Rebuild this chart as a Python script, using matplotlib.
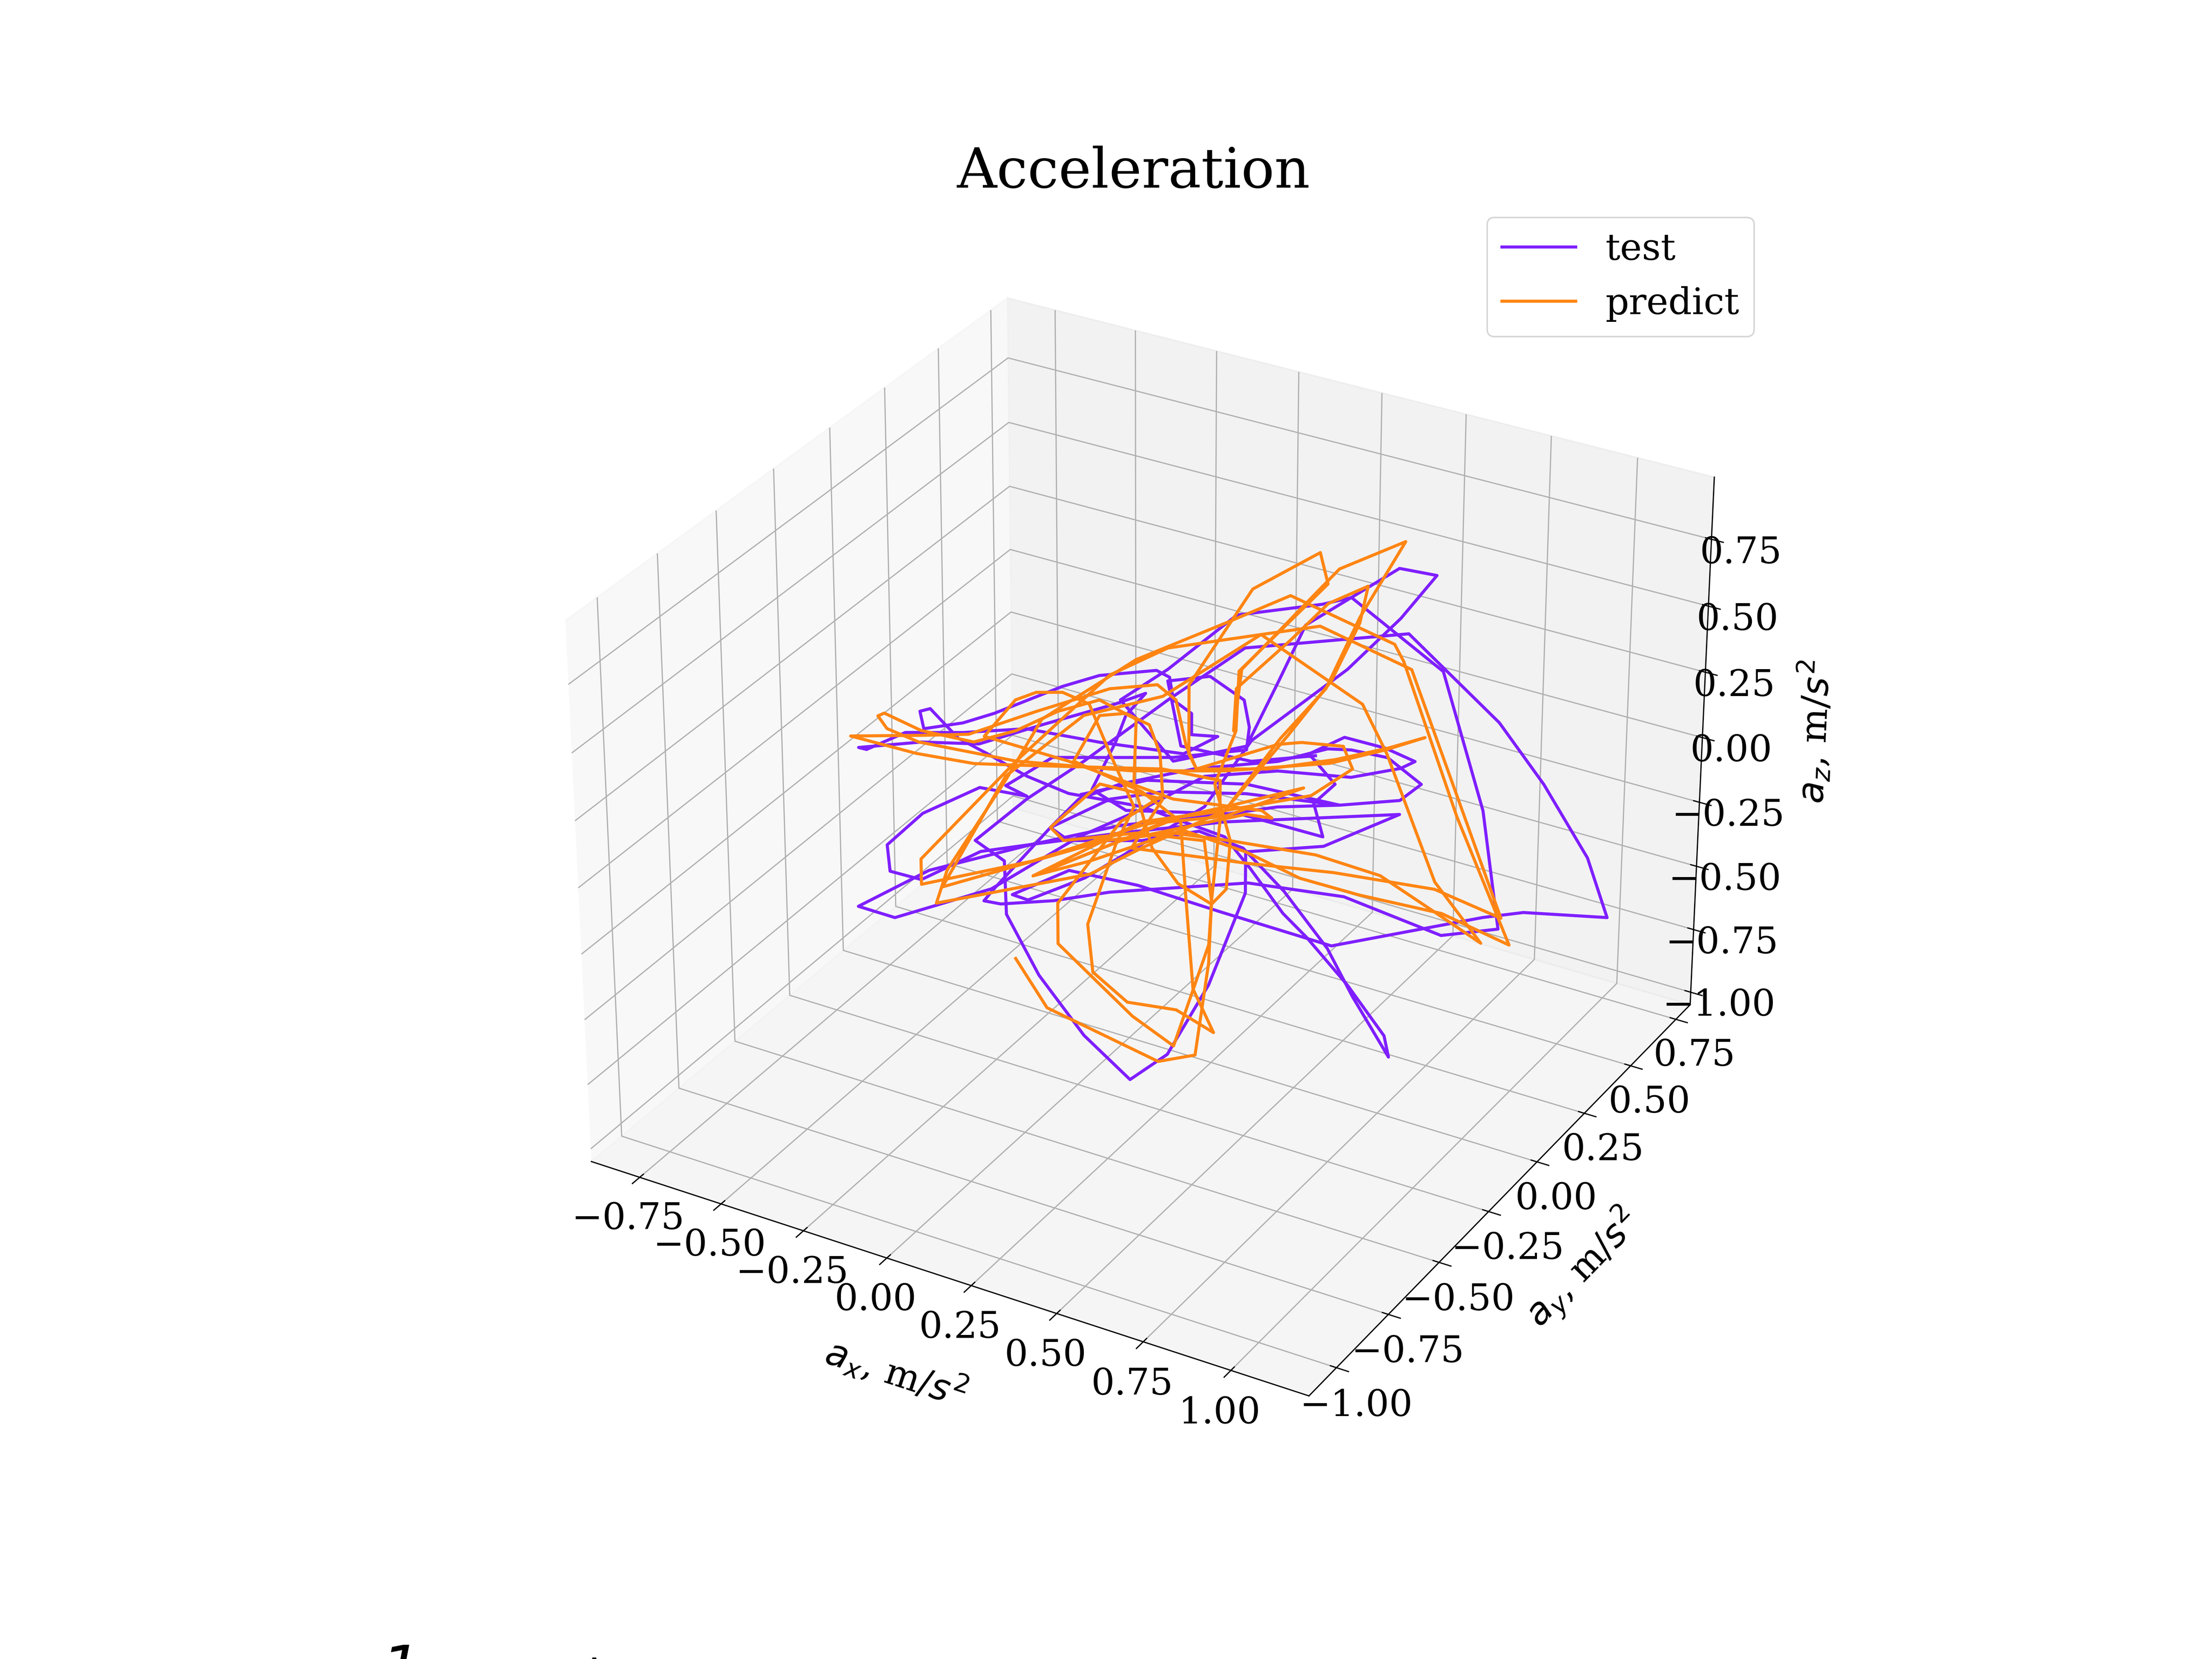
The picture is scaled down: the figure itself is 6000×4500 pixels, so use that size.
import matplotlib
matplotlib.use("Agg")
import matplotlib.pyplot as plt

plt.rcParams['font.family'] = 'DejaVu Serif'

xlim = (-0.90, 1.22)
ylim = (-1.13, 0.83)
zlim = (-1.05, 0.98)
xticks = [-0.75, -0.5, -0.25, 0, 0.25, 0.5, 0.75, 1.0]
yticks = [-1.0, -0.75, -0.5, -0.25, 0, 0.25, 0.5, 0.75]
zticks = [-1.0, -0.75, -0.5, -0.25, 0, 0.25, 0.5, 0.75]

# depth can't be read off the picture, y values are estimates
test_x = [.532,.390,.233,.204,.297,.373,.385,.379,.216,.076,-.052,-.157,-.110,-.215,-.343,-.424,-.419,-.349,-.215,-.098,
          .099,.332,.449,.588,.722,.769,.693,.612,.559,.449,.262,.099,.006,-.058,-.017,.146,.274,.373,.466,.565,
          .623,.708,.697,.612,.518,.464,.390,.332,.239,.146,-.017,-.110,-.197,-.261,-.322,-.345,-.337,-.250,-.180,-.029,
          .053,.179,.208,.216,.257,.257,.315,.239,.053,-.110,-.250,-.378,-.465,-.483,-.343,-.215,-.075,.088,.155,.111,
          .088,.035,.111,.367,.551,.530,.577,.518,.596,.687,.754,.722,.612,.449,.286,.158,.006,-.192,-.410,-.492,
          -.331,-.098,.099,.332,.722,.553,.379,.379,.297,.204,.119,.014,-.087,-.159,-.162,-.227,-.110,.018,.204,.374,
          .734,.939,1.042,1.145,1.194,1.005,.914,.574,.321,.137,-.017,-.145,-.110,.018,.146,.286,.390,.600,.716,.793,
          .711,.507,.449,.379,.216,.099,.204,.355,.542,.607,.812,.908,.949,.821,.600,.385,.074,-.052,-.171,-.209,
          -.186,-.058,.076,.193,.379,.588,.379,.158,.012]
test_y = [.034,-.042,-.125,-.141,-.091,-.051,-.045,-.048,-.134,-.209,-.277,-.332,-.307,-.363,-.431,-.474,-.471,-.434,-.363,-.301,
          -.196,-.073,-.011,.063,.134,.159,.119,.076,.048,-.011,-.110,-.196,-.246,-.280,-.258,-.171,-.103,-.051,-.002,.051,
          .082,.127,.121,.076,.026,-.003,-.042,-.073,-.122,-.171,-.258,-.307,-.354,-.388,-.420,-.432,-.428,-.382,-.345,-.264,
          -.221,-.154,-.139,-.134,-.113,-.113,-.082,-.122,-.221,-.307,-.382,-.450,-.496,-.505,-.431,-.363,-.289,-.202,-.167,-.190,
          -.202,-.230,-.190,-.054,.044,.032,.057,.026,.068,.116,.151,.134,.076,-.011,-.097,-.165,-.246,-.351,-.467,-.510,
          -.425,-.301,-.196,-.073,.134,.045,-.048,-.048,-.091,-.141,-.186,-.241,-.295,-.333,-.335,-.369,-.307,-.239,-.141,-.050,
          .141,.249,.304,.359,.385,.285,.236,.056,-.079,-.176,-.258,-.326,-.307,-.239,-.171,-.097,-.042,.070,.131,.172,
          .128,.020,-.011,-.048,-.134,-.196,-.141,-.060,.039,.073,.182,.233,.255,.187,.070,-.045,-.210,-.277,-.340,-.360,
          -.348,-.280,-.209,-.147,-.048,.063,-.048,-.165,-.243]
test_z = [.220,.199,.256,.499,.516,.428,.327,.242,.213,.213,.213,.106,.066,.099,.001,-.119,-.220,-.252,-.144,-.116,
          -.044,-.001,.027,.034,.052,.113,.213,.242,.246,.199,.170,.113,.056,-.052,-.102,-.102,-.066,-.130,-.295,-.516,
          -.702,-.941,-.857,-.659,-.473,-.380,-.209,-.087,-.030,.027,.077,.142,.227,.285,.395,.385,.320,.342,.378,.478,
          .519,.538,.513,.428,.378,.299,.292,.227,.270,.320,.306,.306,.242,.249,.270,.263,.335,.413,.453,.370,
          .270,.092,.013,-.001,-.087,.041,.113,.227,.289,.249,.199,.173,.139,.163,.142,.027,-.087,-.287,-.398,-.355,
          -.216,-.116,-.073,-.030,-.001,-.123,-.144,-.302,-.659,-.931,-1.031,-.857,-.621,-.385,-.180,-.102,.056,.199,.428,.621,
          .674,.345,.113,-.166,-.395,-.376,-.395,-.506,-.373,-.273,-.216,-.309,-.330,-.245,-.116,.027,.277,.542,.731,.888,
          .914,.706,.499,.256,.199,.428,.542,.742,.782,.807,.535,.013,-.440,-.465,-.316,-.263,-.299,-.332,-.345,-.333,
          -.287,-.052,.056,.084,.077,.034,.113,.127,.074]

pred_x = [-.139,-.069,.183,.267,.297,.303,.321,.321,.193,-.133,-.227,-.355,-.500,-.343,-.238,-.087,.076,.181,.222,.245,
          .268,.425,.577,.693,.775,.687,.565,.332,.123,-.133,-.349,-.419,-.438,-.424,-.343,-.227,-.133,-.040,.053,.134,
          .129,.169,.227,.303,.336,.344,.309,.355,.361,.555,.537,.390,.251,.251,.268,.449,.501,.594,.615,.524,
          .332,.146,-.098,.099,.379,.437,.414,.216,-.017,-.203,-.133,-.087,-.029,.030,.076,.129,.088,.024,.035,.113,
          .224,.309,.262,.245,.233,.146,-.005,.053,.111,.163,.187,.193,.099,-.043,-.043,.125,.218,.297,.303,.286,
          .134,-.029,-.058,.053,.193,.123,.379,.577,.804,.955,.742,.539,.409,.204,.076,-.133,-.349,-.349,-.098,.146,
          .332,.507,.332,.204,-.098,.030,.216,.344,.536,.681,.804,.911,.804,.691,.635,.409,.193,.018,-.157,-.302,
          .064,.245,.379,.501,.635,.821,.975,.850,.724,.703,.473,.332,.134,-.075,-.157,-.291,-.316,.030,.146,.332,
          .472,.565,.626,.643,.556,.478,.355,.350,.367,.579,.723,.626,.553,.454,.332,.216,.099]
pred_y = [-.323,-.286,-.152,-.107,-.091,-.088,-.079,-.079,-.147,-.320,-.369,-.437,-.514,-.431,-.375,-.295,-.209,-.153,-.131,-.119,
          -.107,-.023,.057,.119,.162,.116,.051,-.073,-.184,-.320,-.434,-.471,-.482,-.474,-.431,-.369,-.320,-.270,-.221,-.178,
          -.181,-.159,-.128,-.088,-.071,-.066,-.085,-.060,-.057,.045,.036,-.042,-.116,-.116,-.107,-.011,.017,.066,.078,.029,
          -.073,-.171,-.301,-.196,-.048,-.017,-.029,-.134,-.258,-.357,-.320,-.295,-.264,-.233,-.209,-.181,-.202,-.236,-.230,-.189,
          -.130,-.085,-.110,-.119,-.125,-.171,-.252,-.221,-.190,-.162,-.150,-.147,-.196,-.272,-.272,-.183,-.133,-.091,-.088,-.097,
          -.178,-.264,-.280,-.221,-.147,-.184,-.048,.057,.178,.258,.145,.037,-.032,-.141,-.209,-.320,-.434,-.434,-.301,-.171,
          -.073,.020,-.073,-.141,-.301,-.233,-.134,-.066,.036,.113,.178,.235,.178,.118,.088,-.032,-.147,-.239,-.332,-.409,
          -.215,-.119,-.048,.017,.088,.187,.269,.202,.136,.125,.002,-.073,-.178,-.289,-.332,-.403,-.417,-.233,-.171,-.073,
          .002,.051,.083,.092,.046,-.005,-.060,-.063,-.054,.059,.135,.083,.045,-.008,-.073,-.134,-.196]
pred_z = [-.556,-.748,-.959,-.934,-.573,-.330,-.030,.127,.170,.184,.189,.227,.292,.295,.299,.385,.470,.485,.428,.256,
          .170,.170,.206,.249,.289,.242,.192,.163,.163,.199,.270,.320,.368,.378,.313,.270,.313,.385,.428,.356,
          .113,-.130,-.266,-.345,-.287,-.102,.113,.313,.535,.857,.971,.838,.485,.227,.170,.263,.270,.256,.170,.070,
          .013,-.030,-.237,-.102,-.001,-.016,.013,.056,.199,.292,.428,.456,.456,.413,.227,.027,-.116,-.423,-.609,-.726,
          -.756,-.845,-.674,-.316,-.030,.084,.199,.370,.378,.335,.227,.070,-.030,-.342,-.498,-.781,-.898,-.502,-.337,-.102,
          -.073,-.102,-.052,.113,.056,-.130,-.187,-.223,-.287,-.398,.542,.702,.671,.621,.521,.199,-.173,-.270,-.180,-.044,
          .027,.099,-.009,-.030,-.237,-.180,-.073,-.102,-.156,-.235,-.373,-.495,-.259,.227,.413,.671,.442,.370,.142,-.280,
          -.102,-.066,-.144,-.245,-.309,-.380,-.502,-.009,.571,.635,.814,.714,.578,.356,.127,-.216,-.342,-.230,-.130,.013,
          .299,.499,.714,.849,.785,.656,.470,.313,.542,.911,1.011,.735,.470,.285,.013,-.016,-.102]

fig = plt.figure(figsize=(20, 15), dpi=300)
ax = fig.add_subplot(projection='3d')
ax.computed_zorder = False
ax.plot(test_x, test_y, test_z, color='#7f1fff', lw=2, label='test')
ax.plot(pred_x, pred_y, pred_z, color='#ff8513', lw=2, label='predict')
ax.set_xlim(*xlim)
ax.set_ylim(*ylim)
ax.set_zlim(*zlim)
ax.set_xticks(xticks)
ax.set_yticks(yticks)
ax.set_zticks(zticks)
ax.tick_params(labelsize=24)
ax.set_xlabel('$a_x$, m/$s^2$', fontsize=24, labelpad=24)
ax.set_ylabel('$a_y$, m/$s^2$', fontsize=24, labelpad=24)
ax.set_zlabel('$a_z$, m/$s^2$', fontsize=24, labelpad=24)
ax.set_title('Acceleration', fontsize=36)
ax.legend(fontsize=24)

# text cut off by the bottom edge in the original
fig.text(1035 / 6000, 1 - 4456 / 4500, '1', fontsize=40, style='italic', family='DejaVu Sans', va='top')
fig.text(1150 / 6000, 1 - 4494 / 4500, 'os', fontsize=28, style='italic', va='top')
fig.text(1570 / 6000, 1 - 4492 / 4500, 'A', fontsize=28, va='top')
plt.savefig('out.png')
